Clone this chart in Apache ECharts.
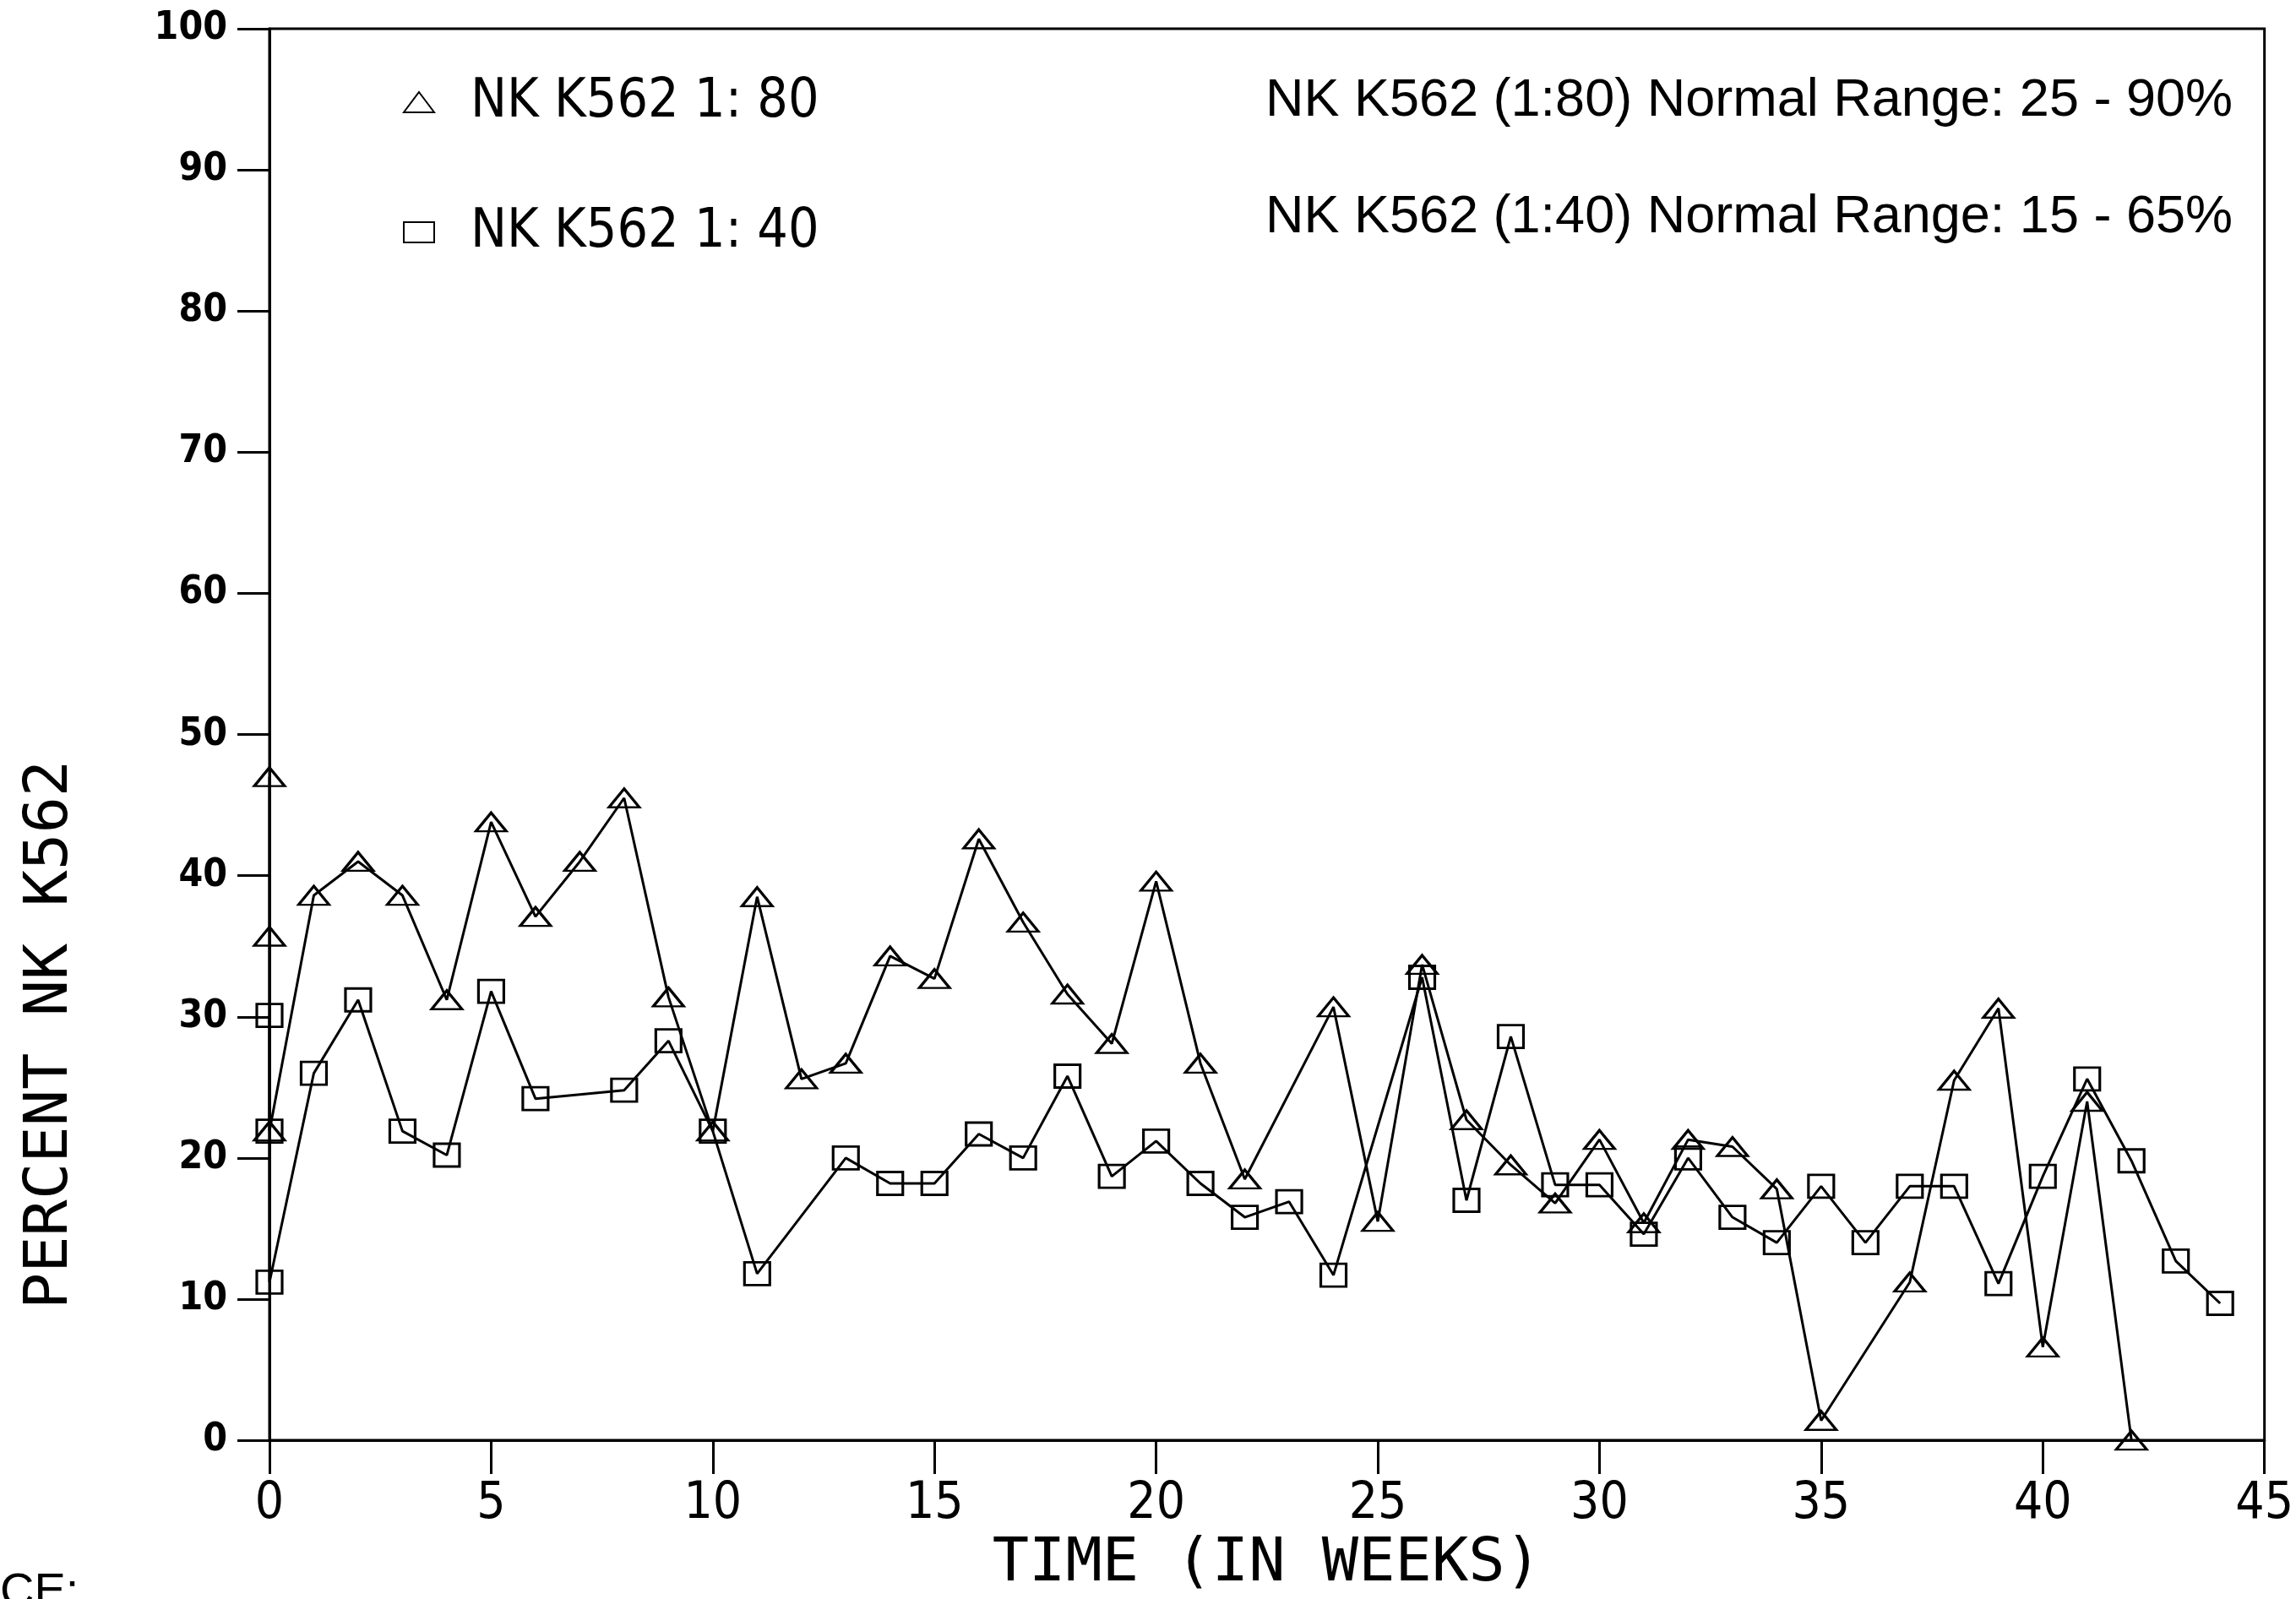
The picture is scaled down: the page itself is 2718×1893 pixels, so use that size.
<!DOCTYPE html>
<html>
<head>
<meta charset="utf-8">
<script src="https://cdn.jsdelivr.net/npm/echarts@6/dist/echarts.min.js"></script>
<style>
html,body{margin:0;padding:0;background:#fff;}
#chart{width:2718px;height:1893px;}
</style>
</head>
<body>
<div id="chart"></div>
<script>
// Data
const weeks80 = [0,0,0,1,2,3,4,5,6,7,8,9,10,11,12,13,14,15,16,17,18,19,20,21,22,24,25,26,27,28,29,30,31,32,33,34,35,37,38,39,40,41,42];
const pct80   = [47,35.7,21.9,38.6,41,38.6,31.2,43.8,37.1,41,45.5,31.4,21.9,38.5,25.6,26.7,34.3,32.7,42.6,36.7,31.6,28.1,39.6,26.7,18.5,30.7,15.5,33.7,22.7,19.5,16.8,21.3,15.4,21.3,20.8,17.8,1.4,11.2,25.5,30.6,6.6,24,0];
const weeks40 = [0,0,0,1,2,3,4,5,6,8,9,10,11,13,14,15,16,17,18,19,20,21,22,23,24,26,27,28,29,30,31,32,33,34,35,36,37,38,39,40,41,42,43,44];
const pct40   = [30.1,21.9,11.2,26,31.2,21.9,20.2,31.8,24.2,24.8,28.3,21.9,11.8,20,18.2,18.2,21.7,20,25.8,18.7,21.2,18.2,15.8,16.9,11.7,32.8,17,28.6,18.1,18.1,14.6,20,15.8,14,18,14,18,18,11.1,18.7,25.6,19.8,12.7,9.7];
const seriesNames = ['NK K562 1: 80', 'NK K562 1: 40'];
const rangeNotes = ['NK K562 (1:80) Normal Range: 25 - 90%', 'NK K562 (1:40) Normal Range: 15 - 65%'];
const xTitle = 'TIME (IN WEEKS)';
const yTitle = 'PERCENT NK K562';
const xTicks = {min: 0, max: 45, interval: 5};
const yTicks = {min: 0, max: 100, interval: 10};

const narrow = "'Liberation Sans Narrow', 'DejaVu Sans Condensed', 'Roboto Condensed', 'Liberation Sans', sans-serif";
const mono = "'DejaVu Sans Mono', 'Liberation Mono', monospace";
const helv = "'Liberation Sans', Arial, sans-serif";

const zip = (xs, ys) => xs.map((x, i) => [x, ys[i]]);

const chart = echarts.init(document.getElementById('chart'), null, {renderer: 'canvas'});
const markerStyle = {color: 'rgba(255,255,255,0)', borderColor: '#000', borderWidth: 3};

chart.setOption({
  backgroundColor: '#fff',
  animation: false,
  grid: {left: 319, right: 37, top: 34, bottom: 187, show: true, borderColor: '#000', borderWidth: 3, backgroundColor: 'transparent'},
  legend: {
    orient: 'vertical',
    left: 472, top: 82,
    itemWidth: 36, itemHeight: 24,
    itemGap: 86,
    textStyle: {fontFamily: narrow, fontSize: 64, color: '#000', padding: [0, 0, 0, 38], lineHeight: 68},
    data: [{name: seriesNames[0], icon: 'triangle'}, {name: seriesNames[1], icon: 'rect'}]
  },
  xAxis: {
    type: 'value', min: xTicks.min, max: xTicks.max, interval: xTicks.interval,
    name: xTitle, nameLocation: 'middle', nameGap: 100,
    nameTextStyle: {fontFamily: mono, fontSize: 72, color: '#000'},
    axisLine: {show: true, lineStyle: {color: '#000', width: 3}},
    axisTick: {show: true, inside: false, length: 40, lineStyle: {color: '#000', width: 3}},
    axisLabel: {margin: 46, fontFamily: narrow, fontSize: 60, color: '#000'},
    splitLine: {show: false}
  },
  yAxis: {
    type: 'value', min: yTicks.min, max: yTicks.max, interval: yTicks.interval,
    axisLine: {show: true, lineStyle: {color: '#000', width: 3}},
    axisTick: {show: true, inside: false, length: 38, lineStyle: {color: '#000', width: 3}},
    axisLabel: {margin: 50, fontFamily: narrow, fontWeight: 'bold', fontSize: 46, color: '#000'},
    splitLine: {show: false}
  },
  graphic: [
    {type: 'text', x: 2643, y: 120, style: {text: rangeNotes[0], fontFamily: helv, fontSize: 63, fill: '#000', textAlign: 'right', textVerticalAlign: 'middle'}},
    {type: 'text', x: 2643, y: 258, style: {text: rangeNotes[1], fontFamily: helv, fontSize: 63, fill: '#000', textAlign: 'right', textVerticalAlign: 'middle'}},
    {type: 'text', x: 60, y: 1225, rotation: Math.PI / 2, style: {text: yTitle, fontFamily: mono, fontSize: 72, fill: '#000', textAlign: 'center', textVerticalAlign: 'middle'}},
    {type: 'text', x: 0, y: 1858, style: {text: 'CE:', fontFamily: helv, fontSize: 56, fill: '#000', textAlign: 'left', textVerticalAlign: 'top'}}
  ],
  series: [
    {
      name: seriesNames[0], type: 'line', data: zip(weeks80, pct80),
      symbol: 'triangle', symbolSize: [36, 22], clip: false,
      lineStyle: {color: '#000', width: 3},
      itemStyle: markerStyle
    },
    {
      name: seriesNames[1], type: 'line', data: zip(weeks40, pct40),
      symbol: 'rect', symbolSize: [30, 27], clip: false,
      lineStyle: {color: '#000', width: 3},
      itemStyle: markerStyle
    }
  ]
});
</script>
</body>
</html>
